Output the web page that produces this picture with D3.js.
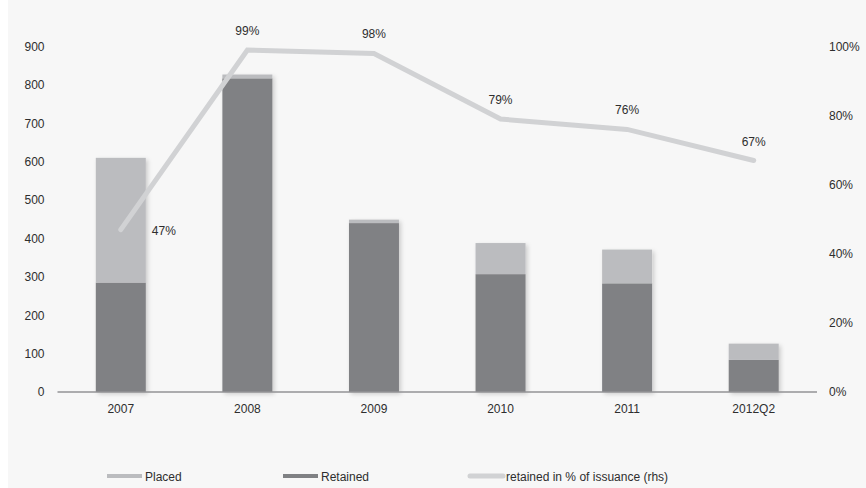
<!DOCTYPE html>
<html>
<head>
<meta charset="utf-8">
<script src="https://cdn.jsdelivr.net/npm/d3@7"></script>
<style>
  html, body { margin: 0; padding: 0; background: #f7f7f7; }
  svg { display: block; font-family: "Liberation Sans", Arial, Helvetica, sans-serif; }
</style>
</head>
<body>
<svg id="chart" width="866" height="488"></svg>
<script>
// Issuance by year: placed vs retained, with the retained share on the right axis
const categories = ["2007", "2008", "2009", "2010", "2011", "2012Q2"];
const retained = [285, 817, 440, 307, 283, 84];
const placed = [325, 10, 9, 81, 88, 42];
const retainedPct = [47, 99, 98, 79, 76, 67];
const leftTicks = [0, 100, 200, 300, 400, 500, 600, 700, 800, 900];
const rightTicks = [0, 20, 40, 60, 80, 100];
const legendLabels = ["Placed", "Retained", "retained in % of issuance (rhs)"];

const colors = { placed: "#bbbcbf", retained: "#808184", line: "#d1d2d4", text: "#2e2e2e", axis: "#939396" };

const svg = d3.select("#chart");
const W = 866, H = 488;
const m = { left: 57.5, right: 817, top: 46.5, bottom: 392 };

svg.append("rect").attr("width", W).attr("height", H).attr("fill", "#f7f7f7");
svg.append("rect").attr("width", 8).attr("height", H).attr("fill", "#ffffff");

const defs = svg.append("defs");
const f = defs.append("filter").attr("id", "shadow").attr("x", "-20%").attr("y", "-20%").attr("width", "150%").attr("height", "150%");
f.append("feDropShadow").attr("dx", 2).attr("dy", 2).attr("stdDeviation", 2)
  .attr("flood-color", "#000").attr("flood-opacity", 0.18);

const x = d3.scaleBand().domain(categories).range([m.left, m.right]).paddingInner(0.605).paddingOuter(0.3025);
const yL = d3.scaleLinear().domain([0, 900]).range([m.bottom, m.top]);
const yR = d3.scaleLinear().domain([0, 100]).range([m.bottom, m.top]);

const rows = categories.map((c, i) => ({ cat: c, retained: retained[i], placed: placed[i] }));
const stack = d3.stack().keys(["retained", "placed"])(rows);

// stacked bars
const barG = svg.append("g").attr("filter", "url(#shadow)");
stack.forEach(layer => {
  barG.append("g").attr("fill", colors[layer.key])
    .selectAll("rect").data(layer).join("rect")
    .attr("x", d => x(d.data.cat))
    .attr("width", x.bandwidth())
    .attr("y", d => yL(d[1]))
    .attr("height", d => yL(d[0]) - yL(d[1]));
});

// baseline
svg.append("line").attr("x1", m.left).attr("x2", m.right)
  .attr("y1", m.bottom).attr("y2", m.bottom)
  .attr("stroke", colors.axis).attr("stroke-width", 1.5);

// left axis
const axL = svg.append("g").attr("transform", `translate(${m.left},0)`)
  .call(d3.axisLeft(yL).tickValues(leftTicks).tickSize(0).tickPadding(13).tickFormat(d3.format("d")));
axL.select(".domain").remove();
axL.selectAll("text").attr("font-size", 12).attr("fill", colors.text).attr("font-family", null);

// right axis
const axR = svg.append("g").attr("transform", `translate(${m.right},0)`)
  .call(d3.axisRight(yR).tickValues(rightTicks).tickSize(0).tickPadding(12).tickFormat(d => d + "%"));
axR.select(".domain").remove();
axR.selectAll("text").attr("font-size", 12).attr("fill", colors.text).attr("font-family", null);

// category axis
const axB = svg.append("g").attr("transform", `translate(0,${m.bottom})`)
  .call(d3.axisBottom(x).tickSize(0).tickPadding(12));
axB.select(".domain").remove();
axB.selectAll("text").attr("font-size", 12).attr("fill", colors.text).attr("font-family", null);

// retained share line
const cx = c => x(c) + x.bandwidth() / 2;
const line = d3.line().x((d, i) => cx(categories[i])).y(d => yR(d));
svg.append("path").datum(retainedPct).attr("d", line)
  .attr("fill", "none").attr("stroke", colors.line).attr("stroke-width", 5)
  .attr("stroke-linecap", "round").attr("stroke-linejoin", "miter");

// share labels
svg.append("g").selectAll("text").data(retainedPct).join("text")
  .attr("x", (d, i) => i === 0 ? cx(categories[i]) + 31 : cx(categories[i]))
  .attr("y", (d, i) => i === 0 ? yR(d) + 5 : yR(d) - 15)
  .attr("text-anchor", (d, i) => i === 0 ? "start" : "middle")
  .attr("font-size", 12).attr("fill", colors.text)
  .text(d => d + "%");

// legend
const legY = 476;
const leg = svg.append("g");
const legItems = [
  { x: 107, label: legendLabels[0], type: "bar", color: colors.placed },
  { x: 283, label: legendLabels[1], type: "bar", color: colors.retained },
  { x: 468, label: legendLabels[2], type: "line", color: colors.line }
];
legItems.forEach(it => {
  if (it.type === "bar") {
    leg.append("rect").attr("x", it.x).attr("y", legY - 2).attr("width", 35).attr("height", 4).attr("fill", it.color);
  } else {
    leg.append("line").attr("x1", it.x + 2).attr("x2", it.x + 35).attr("y1", legY).attr("y2", legY)
      .attr("stroke", it.color).attr("stroke-width", 5).attr("stroke-linecap", "round");
  }
  leg.append("text").attr("x", it.x + 38).attr("y", legY + 4.5)
    .attr("font-size", 12).attr("fill", colors.text).text(it.label);
});
</script>
</body>
</html>
